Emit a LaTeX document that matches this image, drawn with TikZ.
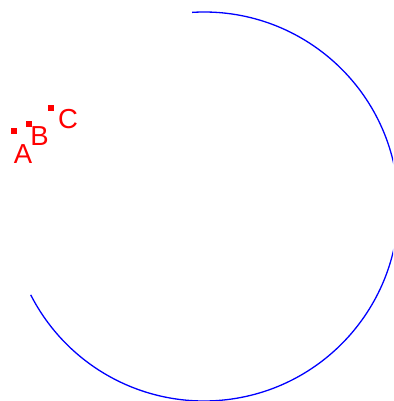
\documentclass[tikz,border=0pt]{standalone}
\usepackage{fontspec}
\setmainfont{Liberation Sans}
\begin{document}
\begin{tikzpicture}[x=1pt,y=-1pt,
  pt/.style={fill=red,draw=none,minimum size=6pt,inner sep=0pt,rectangle},
  lbl/.style={text=red,inner sep=0pt,font=\fontsize{27.5}{27.5}\selectfont}]
\useasboundingbox (0,0) rectangle (393,401);
\clip (0,0) rectangle (393,401);
\coordinate (O) at (204,206.5);
\draw[blue,line width=1.3pt] (O) ++(-93.5:194.5) arc[start angle=-93.5,end angle=153,radius=194.5];
\node[pt] (a) at (14,131) {};
\node[pt] (b) at (28.5,123.5) {};
\node[pt] (c) at (51,108.5) {};
\node[lbl] (la) at (23,154) {A};
\node[lbl] (lb) at (39.5,136.5) {B};
\node[lbl] (lc) at (68,119.5) {C};
\end{tikzpicture}
\end{document}
